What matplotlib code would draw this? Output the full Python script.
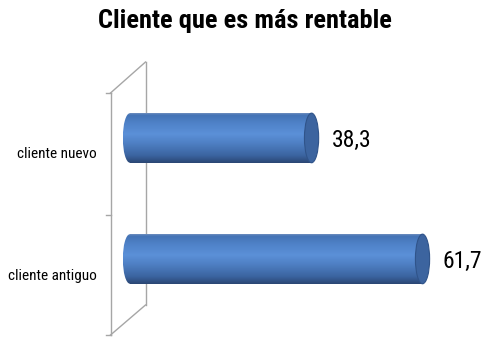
import numpy as np
import matplotlib
matplotlib.use("Agg")
import matplotlib.pyplot as plt
from matplotlib.colors import LinearSegmentedColormap
from matplotlib.patches import Ellipse, Rectangle
from matplotlib.lines import Line2D

# datos
categories = ["cliente antiguo", "cliente nuevo"]
values = [61.7, 38.3]
value_labels = ["61,7", "38,3"]
title = "Cliente que es más rentable"

plt.rcParams["font.family"] = ["Roboto Condensed", "DejaVu Sans"]

W, H = 487, 337
fig = plt.figure(figsize=(W / 100, H / 100), dpi=100)
ax = fig.add_axes([0, 0, 1, 1])
ax.set_xlim(-27.4, 75.3)
ax.set_ylim(-0.645, 2.14)
ax.axis("off")


def px(x, y):
    # pixel -> fraccion de figura
    return x / W, 1 - y / H


def line(p0, p1):
    (x0, y0), (x1, y1) = px(*p0), px(*p1)
    ax.add_line(Line2D([x0, x1], [y0, y1], transform=fig.transFigure,
                       color="#a6a6a6", lw=1.0, zorder=1))


# pared 3D (detras de las barras)
line((110.5, 93), (110.5, 335))
line((145.5, 62), (145.5, 305))
line((110.5, 93), (145.5, 62))
line((145.5, 305), (110.5, 335))
for ty in (93, 215, 335):
    line((106, ty), (110.5, ty))

# cilindros
cmap = LinearSegmentedColormap.from_list(
    "cyl", [(0, "#6f8fbf"), (0.04, "#4473b5"), (0.2, "#4f82c8"),
            (0.42, "#5b90d8"), (0.6, "#4f80c4"), (0.85, "#3b64a0"),
            (1, "#2a4673")])
grad = np.linspace(0, 1, 256).reshape(-1, 1)
h = 0.41
ew = 3.0
for i, (v, lab) in enumerate(zip(values, value_labels)):
    y0, y1 = i - h / 2, i + h / 2
    body = Rectangle((0, y0), v, h, facecolor="none", edgecolor="none")
    left = Ellipse((0, i), ew, h, facecolor="none", edgecolor="none")
    ax.add_patch(body)
    ax.add_patch(left)
    for clip in (body, left):
        im = ax.imshow(grad, cmap=cmap, aspect="auto", origin="upper",
                       extent=(-ew / 2, v, y0, y1), interpolation="bilinear",
                       zorder=2)
        im.set_clip_path(clip)
    ax.add_patch(Ellipse((v, i), ew, h, facecolor="#3c649f",
                         edgecolor="#30548a", lw=0.8, zorder=3))
    ax.text(v + 4.2, i - 0.02, lab, fontsize=17, va="center", ha="left")

# etiquetas de categoria (eje frontal)
fig.text(*px(97, 276), categories[0], fontsize=11, ha="right", va="center")
fig.text(*px(97, 154), categories[1], fontsize=11, ha="right", va="center")

fig.text(*px(245, 21), title, fontsize=19, fontweight="bold",
         ha="center", va="center")

fig.savefig("out.png", dpi=100)
